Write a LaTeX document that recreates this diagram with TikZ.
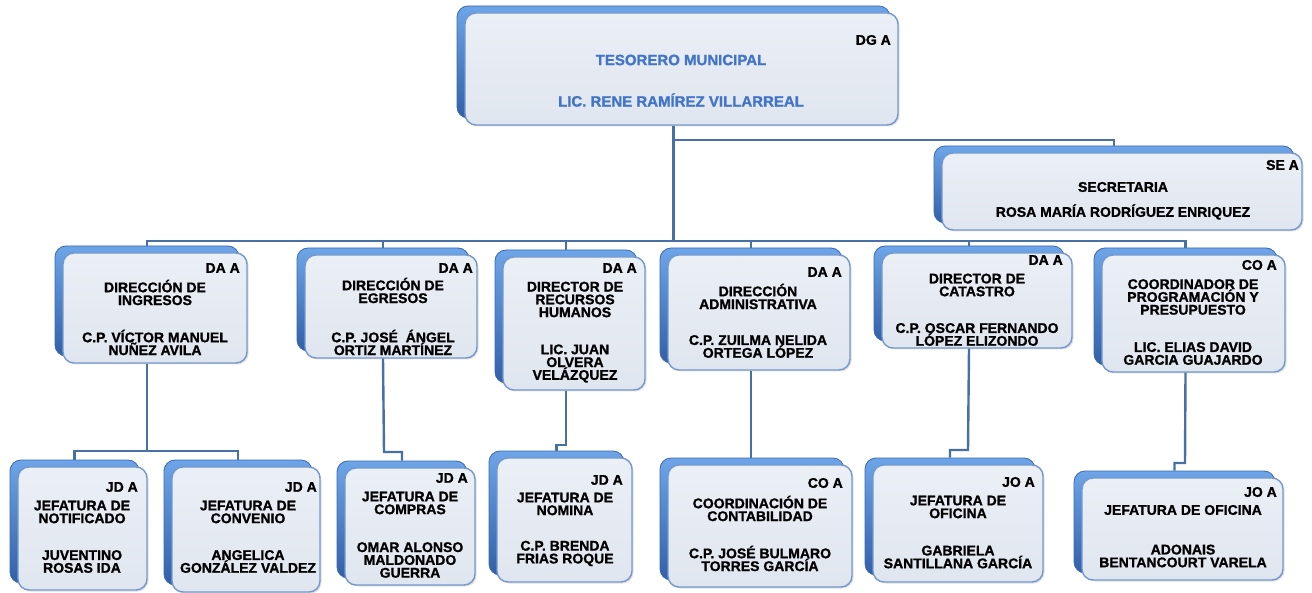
\documentclass[tikz,border=0pt]{standalone}
\usepackage{fontspec}
\setmainfont{Liberation Sans}[BoldFeatures={FakeBold=1.2}]
\usetikzlibrary{calc,shadows}
\definecolor{backtop}{RGB}{110,165,232}
\definecolor{backbot}{RGB}{50,96,168}
\definecolor{backline}{RGB}{60,105,175}
\definecolor{frontfill}{RGB}{235,239,246}
\definecolor{frontfill2}{RGB}{224,230,239}
\definecolor{frontline}{RGB}{115,152,205}
\definecolor{connline}{RGB}{70,112,166}
\definecolor{titleblue}{RGB}{66,116,200}
\newcommand\obox[5]{%
  \pgfmathsetmacro\bw{#4-#2}\pgfmathsetmacro\bh{#5-#3}%
  \node[backbox,minimum width=\bw pt,minimum height=\bh pt] (#1b) at ({(#2+#4)/2-8},{(#3+#5)/2-7}) {};
  \node[frontbox,minimum width=\bw pt,minimum height=\bh pt] (#1) at ({(#2+#4)/2},{(#3+#5)/2}) {};
}
\begin{document}
\begin{tikzpicture}[x=1pt,y=-1pt,
  backbox/.style={rounded corners=11pt,top color=backtop,bottom color=backbot,draw=backline,line width=0.8pt,inner sep=0pt},
  frontbox/.style={rounded corners=11pt,top color=frontfill,bottom color=frontfill2,draw=frontline,line width=1.4pt,inner sep=0pt,
     drop shadow={opacity=0.25,shadow xshift=1.5pt,shadow yshift=-1.5pt}},
  conn/.style={draw=connline,line width=2.4pt},
  lbl/.style={font=\fontsize{14}{12.8}\selectfont\bfseries,align=center,inner sep=0pt,text=black},
  code/.style={lbl,anchor=east},
  ttl/.style={font=\fontsize{15}{15}\selectfont\bfseries,align=center,inner sep=0pt,text=titleblue}]
\useasboundingbox (0,0) rectangle (1312,593);

% ---------------- boxes ----------------
\obox{top}{465}{13}{898}{125}
\obox{sec}{942}{153}{1302}{230}
\obox{f1}{63}{253}{247}{363}
\obox{f2}{305}{255}{477}{358}
\obox{f3}{503}{257}{645}{390}
\obox{f4}{668}{255}{850}{370}
\obox{f5}{882}{253}{1072}{348}
\obox{f6}{1102}{255}{1285}{372}
\obox{g1}{18}{467}{147}{590}
\obox{g2}{172}{467}{320}{592}
\obox{g3}{345}{468}{475}{585}
\obox{g4}{497}{458}{632}{582}
\obox{g5}{668}{465}{852}{587}
\obox{g6}{873}{465}{1043}{582}
\obox{g7}{1082}{478}{1283}{580}

% ---------------- connectors ----------------
\coordinate (sj) at (673.5,140);
\coordinate (bus) at (673.5,241);
\draw[conn] (topb.center |- top.south) -- (bus);
\draw[conn] (sj) -| (secb.north);
\foreach \n in {f1,f2,f3,f4,f5,f6}{\draw[conn] (bus) -| (\n b.north);}
\coordinate (j1) at (147,451);
\draw[conn] (f1b.center |- f1.south) -- (j1);
\draw[conn] (j1) -| (g1b.north);
\draw[conn] (j1) -| (g2b.north);
\coordinate (j2) at (384,452);
\draw[conn] (f2b.center |- f2.south) -- (j2) -| (g3b.north);
\coordinate (j3) at (566,445);
\draw[conn] (f3b.center |- f3.south) -- (j3) -| (g4b.north);
\draw[conn] (f4b.center |- f4.south) -- (f4b.center |- g5b.north);
\coordinate (j5) at (968,450);
\draw[conn] (f5b.center |- f5.south) -- (j5) -| (g6b.north);
\coordinate (j6) at (1185,463);
\draw[conn] (f6b.center |- f6.south) -- (j6) -| (g7b.north);

% ---------------- texts ----------------
\node[code] (tc) at (891,40) {DG A};
\node[ttl] (tt1) at (681,60) {TESORERO MUNICIPAL};
\node[ttl] (tt2) at (681,100) {LIC. RENE RAMÍREZ VILLARREAL};

\node[code] (sc) at (1299,165) {SE A};
\node[lbl] (st1) at (1123,187) {SECRETARIA};
\node[lbl] (st2) at (1123,212) {ROSA MARÍA RODRÍGUEZ ENRIQUEZ};

\node[code] (c1) at (240,268) {DA A};
\node[lbl] (a1) at (155,292.5) {DIRECCIÓN DE\\INGRESOS};
\node[lbl] (n1) at (155,342.5) {C.P. VÍCTOR MANUEL\\NUÑEZ AVILA};

\node[code] (c2) at (473,268) {DA A};
\node[lbl] (a2) at (393,290.5) {DIRECCIÓN DE\\EGRESOS};
\node[lbl] (n2) at (393,342.5) {C.P. JOSÉ~ ÁNGEL\\ORTIZ MARTÍNEZ};

\node[code] (c3) at (637,268) {DA A};
\node[lbl] (a3) at (575,299.5) {DIRECTOR DE\\RECURSOS\\HUMANOS};
\node[lbl] (n3) at (575,363.5) {LIC. JUAN\\OLVERA\\VELÁZQUEZ};

\node[code] (c4) at (842,272) {DA A};
\node[lbl] (a4) at (758,296.5) {DIRECCIÓN\\ADMINISTRATIVA};
\node[lbl] (n4) at (758,346.5) {C.P. ZUILMA NELIDA\\ORTEGA LÓPEZ};

\node[code] (c5) at (1063,260) {DA A};
\node[lbl] (a5) at (977,285) {DIRECTOR DE\\CATASTRO};
\node[lbl] (n5) at (977,334.5) {C.P. OSCAR FERNANDO\\LÓPEZ ELIZONDO};

\node[code] (c6) at (1277,265) {CO A};
\node[lbl] (a6) at (1193,297) {COORDINADOR DE\\PROGRAMACIÓN Y\\PRESUPUESTO};
\node[lbl] (n6) at (1193,353.5) {LIC. ELIAS DAVID\\GARCIA GUAJARDO};

\node[code] (d1) at (138,487) {JD A};
\node[lbl] (b1) at (82,512) {JEFATURA DE\\NOTIFICADO};
\node[lbl] (m1) at (82,561.5) {JUVENTINO\\ROSAS IDA};

\node[code] (d2) at (317,487) {JD A};
\node[lbl] (b2) at (248,512) {JEFATURA DE\\CONVENIO};
\node[lbl] (m2) at (248,561.5) {ANGELICA\\GONZÁLEZ VALDEZ};

\node[code] (d3) at (468,478) {JD A};
\node[lbl] (b3) at (410,503) {JEFATURA DE\\COMPRAS};
\node[lbl] (m3) at (410,560) {OMAR ALONSO\\MALDONADO\\GUERRA};

\node[code] (d4) at (623,480) {JD A};
\node[lbl] (b4) at (565,504) {JEFATURA DE\\NOMINA};
\node[lbl] (m4) at (565,553.5) {C.P. BRENDA\\FRIAS ROQUE};

\node[code] (d5) at (843,483) {CO A};
\node[lbl] (b5) at (760,508.5) {COORDINACIÓN DE\\CONTABILIDAD};
\node[lbl] (m5) at (760,558.5) {C.P. JOSÉ BULMARO\\TORRES GARCÍA};

\node[code] (d6) at (1035,482) {JO A};
\node[lbl] (b6) at (958,507) {JEFATURA DE\\OFICINA};
\node[lbl] (m6) at (958,557) {GABRIELA\\SANTILLANA GARCÍA};

\node[code] (d7) at (1277,492) {JO A};
\node[lbl] (b7) at (1183,510) {JEFATURA DE OFICINA};
\node[lbl] (m7) at (1183,556) {ADONAIS\\BENTANCOURT VARELA};
\end{tikzpicture}
\end{document}
